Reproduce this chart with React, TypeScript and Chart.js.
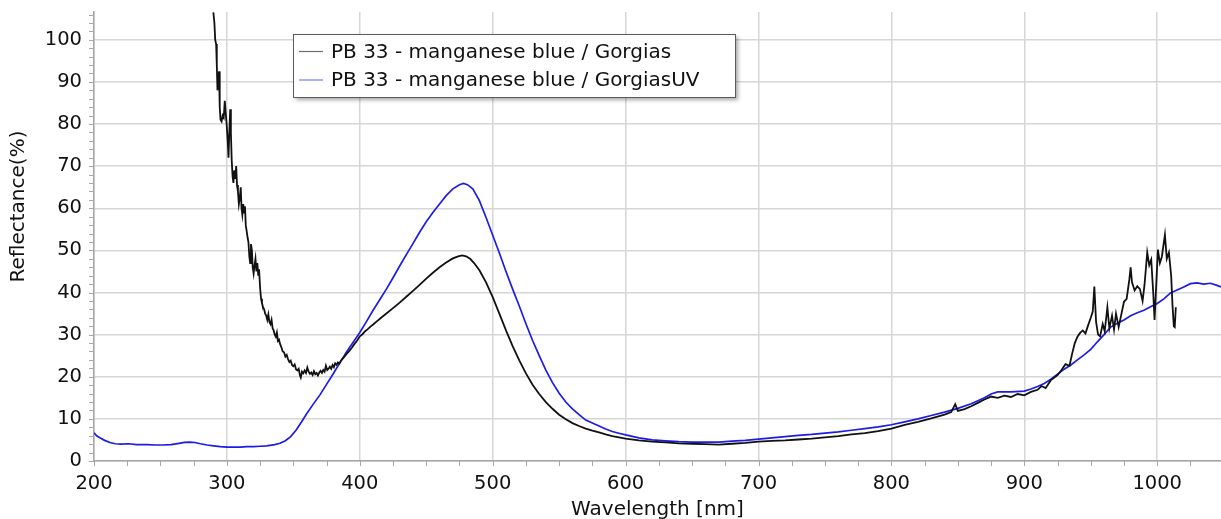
import React, { useEffect, useRef } from "react";
import { Chart, registerables } from "chart.js";

Chart.register(...registerables);

// ---- Data ----
const seriesLabels = [
  "PB 33 - manganese blue / Gorgias",
  "PB 33 - manganese blue / GorgiasUV",
];

const gorgiasWavelength = [
  289.8, 290.6, 291.2, 291.9, 292.4, 292.9, 293.5, 294.1, 294.6, 295.2,
  296.0, 296.8, 297.6, 298.4, 299.0, 299.8, 300.6, 301.2, 301.8, 302.5,
  303.0, 303.6, 304.3, 304.9, 305.6, 306.3, 307.0, 307.6, 308.3, 309.0,
  309.7, 310.4, 311.0, 311.6, 312.3, 312.9, 313.6, 314.2, 314.9, 315.6,
  316.2, 316.9, 317.5, 318.1, 318.8, 319.4, 320.1, 320.8, 321.5, 322.2,
  322.9, 323.6, 324.2, 325.0, 325.7, 326.4, 327.2, 328.0, 328.8, 329.6,
  330.4, 331.2, 332.0, 332.8, 333.6, 334.4, 335.2, 336.0, 336.8, 337.6,
  338.4, 339.2, 340.0, 341.0, 342.0, 343.0, 344.0, 345.0, 346.0, 347.0,
  348.0, 349.0, 350.0, 351.0, 352.0, 353.0, 354.0, 355.0, 355.6, 356.5,
  357.5, 358.5, 359.5, 360.5, 361.5, 362.5, 363.5, 364.5, 365.5, 366.5,
  367.5, 368.5, 369.5, 370.5, 371.5, 372.5, 373.5, 374.5, 375.5, 376.5,
  377.5, 378.5, 379.5, 380.5, 381.5, 382.5, 383.5, 384.5, 386, 388,
  390, 392, 394, 396, 398, 400, 402, 404, 406, 408,
  410, 413, 416, 420, 425, 430, 435, 440, 445, 450,
  455, 460, 465, 470, 474, 477, 480, 483, 486, 490,
  495, 500, 505, 510, 515, 520, 525, 530, 535, 540,
  545, 550, 555, 560, 565, 570, 575, 580, 585, 590,
  595, 600, 610, 620, 630, 640, 650, 660, 670, 680,
  690, 700, 710, 720, 730, 740, 750, 760, 770, 780,
  790, 800, 810, 820, 830, 840, 845, 848, 850, 855,
  860, 865, 870, 875, 880, 885, 890, 895, 900, 905,
  910, 913, 916, 920, 925, 928, 931, 934, 936, 938,
  940, 942, 944, 946, 948, 950, 951.5, 952.7, 954, 955.5,
  957, 959, 960.5, 962.5, 964, 966, 967.5, 969, 971, 973,
  975, 977, 979, 980, 981, 983, 985, 987, 989, 990.5,
  992.5, 994, 995.5, 997, 998, 999.3, 1000.5, 1002, 1003.5, 1005.8,
  1007.2, 1008.8, 1010.5, 1011.5, 1012.5, 1013.2, 1014,
];

const gorgiasReflectance = [
  106.5, 104, 100, 99, 94, 88, 91, 92.5, 84, 81,
  80.6, 82, 81.5, 85.5, 83, 80, 76, 72, 78, 83.5,
  78, 71.5, 67.5, 66, 69, 67, 70, 65.5, 64, 61,
  62.5, 65, 60, 58.5, 61, 59, 60.5, 56, 54.5, 53,
  52, 48.5, 47, 51.5, 50, 46, 44.5, 46.5, 48, 45,
  47, 44, 45.5, 41, 38.5, 37.5, 36.5, 36, 35, 34.5,
  33.5, 34.8, 33, 32.5, 33.5, 31.5, 31, 30, 29.5, 30.5,
  28.5, 28.8, 27.8, 27, 26, 25.8, 24.8, 25.2, 24.2, 23.5,
  23.8, 22.8, 22.5, 22.9, 21.8, 21.5, 21.9, 20.3, 19.8, 21.2,
  20.8, 21.5, 20.9, 22.2, 21.2, 20.7, 21.0, 20.4, 21.3, 20.6,
  20.9, 20.3, 21.0, 21.4, 20.9, 21.6, 21.2, 22.6, 21.6, 21.9,
  22.4, 21.9, 22.8, 22.3, 23.2, 22.8, 23.4, 23.1, 23.9, 24.6,
  25.4, 26.1, 26.9, 27.8, 28.6, 29.6, 30.1, 30.8, 31.3, 31.9,
  32.4, 33.2, 34.0, 35.0, 36.3, 37.6, 39.0, 40.4, 41.8, 43.3,
  44.7, 46.0, 47.1, 48.1, 48.6, 48.8, 48.6, 48.0, 47.0, 45.3,
  42.4, 38.9, 35.0, 31.0, 27.3, 23.9, 20.8, 18.1, 15.9, 14.0,
  12.4, 11.0, 9.9, 9.0, 8.3, 7.7, 7.2, 6.8, 6.3, 5.9,
  5.6, 5.3, 4.9, 4.6, 4.4, 4.2, 4.1, 4.0, 3.9, 4.1,
  4.3, 4.6, 4.8, 4.9, 5.1, 5.3, 5.6, 5.9, 6.3, 6.6,
  7.1, 7.7, 8.6, 9.3, 10.1, 11.0, 11.6, 13.5, 11.9, 12.3,
  13.0, 13.8, 14.6, 15.3, 15.0, 15.5, 15.2, 15.9, 15.6, 16.4,
  16.9, 17.8, 17.3, 19.2, 20.4, 21.6, 23.0, 22.6, 25.5, 28.0,
  29.5, 30.4, 31.0, 30.3, 32.2, 34.0, 35.5, 41.4, 33.0, 30.0,
  29.6, 32.5, 30.8, 36.5, 31.5, 34.5, 31.2, 35.0, 31.8, 34.8,
  37.8, 38.5, 43.0, 46.0, 42.5, 40.5, 41.5, 40.8, 38.0, 42.0,
  49.5, 46.5, 47.8, 40.0, 33.5, 42.0, 50.2, 47.0, 48.5, 53.7,
  48.0, 49.5, 44.0, 37.0, 32.0, 31.8, 36.5,
];

const uvWavelength = [
  200, 202, 205, 208, 212, 216, 220, 226, 232, 240,
  246, 252, 258, 264, 268, 272, 276, 280, 285, 290,
  295, 300, 305, 310, 315, 320, 325, 330, 336, 340,
  344, 348, 352, 356, 360, 365, 370, 375, 380, 385,
  390, 395, 400, 405, 410, 415, 420, 425, 430, 435,
  440, 445, 450, 455, 460, 465, 470, 475, 478, 481,
  485, 490, 495, 500, 505, 510, 515, 520, 525, 530,
  535, 540, 545, 550, 555, 560, 565, 570, 575, 580,
  585, 590, 595, 600, 610, 620, 630, 640, 650, 660,
  670, 680, 690, 700, 710, 720, 730, 740, 750, 760,
  770, 780, 790, 800, 810, 820, 830, 840, 850, 860,
  870, 875, 880, 890, 900, 905, 910, 915, 920, 925,
  930, 935, 940, 945, 950, 955, 960, 965, 970, 975,
  980, 985, 990, 995, 1000, 1005, 1010, 1015, 1020, 1025,
  1030, 1035, 1040, 1045, 1048,
];

const uvReflectance = [
  6.7, 6.0, 5.4, 4.9, 4.4, 4.1, 4.0, 4.1, 3.9, 3.9,
  3.8, 3.8, 3.9, 4.2, 4.4, 4.5, 4.4, 4.1, 3.8, 3.6,
  3.4, 3.3, 3.3, 3.3, 3.4, 3.4, 3.5, 3.6, 3.9, 4.2,
  4.8, 5.8, 7.3, 9.2, 11.2, 13.5, 15.7, 18.2, 20.7, 23.3,
  25.9, 28.2, 30.5, 33.1, 35.8, 38.3, 40.8, 43.5, 46.3, 49.0,
  51.6, 54.3, 56.8, 59.0, 61.0, 63.0, 64.6, 65.6, 65.9, 65.6,
  64.6, 61.8, 57.8, 53.6, 49.4, 45.0, 40.8, 36.8, 32.6, 28.6,
  25.0, 21.6, 18.6, 16.1, 14.0, 12.4, 11.0, 9.7, 9.0, 8.3,
  7.6, 7.0, 6.6, 6.2, 5.5, 5.0, 4.8, 4.6, 4.5, 4.5,
  4.5, 4.7, 4.9, 5.2, 5.5, 5.8, 6.1, 6.3, 6.6, 6.9,
  7.3, 7.7, 8.1, 8.6, 9.3, 10.0, 10.8, 11.6, 12.5, 13.6,
  15.0, 15.9, 16.4, 16.4, 16.6, 17.1, 17.7, 18.4, 19.4, 20.6,
  21.8, 22.8, 24.0, 25.2, 26.5, 28.3, 30.0, 31.8, 32.7, 33.5,
  34.5, 35.2, 35.8, 36.6, 37.4, 38.5, 39.9, 40.6, 41.3, 42.1,
  42.3, 42.0, 42.2, 41.7, 41.3,
];

const xTickValues = [200, 300, 400, 500, 600, 700, 800, 900, 1000];
const yTickValues = [0, 10, 20, 30, 40, 50, 60, 70, 80, 90, 100];
const xRange = [200, 1048];
const yRange = [0, 106.6];
const xMinorStep = 25;
const yMinorStep = 2;
const xTitle = "Wavelength [nm]";
const yTitle = "Reflectance(%)";

const FONT = "'DejaVu Sans', Verdana, sans-serif";
const lineColors = ["#111111", "#1c1ce6"];
const legendSwatchColors = ["#6e6e6e", "#7878ff"];

export default function App() {
  const ref = useRef<HTMLCanvasElement>(null);

  useEffect(() => {
    if (!ref.current) return;
    const toPts = (xs: number[], ys: number[]) =>
      xs.map((x, i) => ({ x, y: ys[i] }));

    const decor = {
      id: "decor",
      afterDraw(chart: any) {
        const { ctx, chartArea } = chart;
        const xs = chart.scales.x;
        const ys = chart.scales.y;
        ctx.save();
        // minor / major tick marks
        ctx.strokeStyle = "#a6a6a6";
        ctx.lineWidth = 1;
        ctx.beginPath();
        for (let v = xRange[0]; v <= xRange[1]; v += xMinorStep) {
          const px = Math.round(xs.getPixelForValue(v)) + 0.5;
          ctx.moveTo(px, chartArea.bottom);
          ctx.lineTo(px, chartArea.bottom + 5);
        }
        for (let v = yRange[0]; v <= yRange[1]; v += yMinorStep) {
          const py = Math.round(ys.getPixelForValue(v)) + 0.5;
          ctx.moveTo(chartArea.left - 5, py);
          ctx.lineTo(chartArea.left, py);
        }
        ctx.stroke();

        // axis titles
        ctx.fillStyle = "#111";
        ctx.font = `20px ${FONT}`;
        ctx.textAlign = "center";
        ctx.textBaseline = "alphabetic";
        ctx.fillText(xTitle, (chartArea.left + chartArea.right) / 2, 515);
        ctx.save();
        ctx.translate(18.5, 206.5);
        ctx.rotate(-Math.PI / 2);
        ctx.textBaseline = "middle";
        ctx.fillText(yTitle, 0, 0);
        ctx.restore();

        // legend box
        const bx = 293.5, by = 34.5, bw = 442, bh = 63;
        ctx.save();
        ctx.shadowColor = "rgba(0,0,0,0.35)";
        ctx.shadowBlur = 4;
        ctx.shadowOffsetX = 2;
        ctx.shadowOffsetY = 2;
        ctx.fillStyle = "#ffffff";
        ctx.fillRect(bx, by, bw, bh);
        ctx.restore();
        ctx.strokeStyle = "#5a5a5a";
        ctx.lineWidth = 1;
        ctx.strokeRect(bx, by, bw, bh);
        const rows = [51.5, 80];
        seriesLabels.forEach((label, i) => {
          ctx.strokeStyle = legendSwatchColors[i];
          ctx.lineWidth = 1.2;
          ctx.beginPath();
          ctx.moveTo(299, rows[i]);
          ctx.lineTo(323, rows[i]);
          ctx.stroke();
          ctx.fillStyle = "#111";
          ctx.font = `20px ${FONT}`;
          ctx.textAlign = "left";
          ctx.textBaseline = "middle";
          ctx.fillText(label, 331, rows[i] + 1);
        });
        ctx.restore();
      },
    };

    const chart = new Chart(ref.current, {
      type: "line",
      data: {
        datasets: [
          {
            label: seriesLabels[0],
            data: toPts(gorgiasWavelength, gorgiasReflectance),
            borderColor: lineColors[0],
            borderWidth: 1.8,
            pointRadius: 0,
            tension: 0,
            fill: false,
          },
          {
            label: seriesLabels[1],
            data: toPts(uvWavelength, uvReflectance),
            borderColor: lineColors[1],
            borderWidth: 1.7,
            pointRadius: 0,
            tension: 0,
            fill: false,
          },
        ],
      },
      options: {
        animation: false,
        responsive: true,
        maintainAspectRatio: false,
        layout: { padding: 0 },
        plugins: {
          legend: { display: false },
          tooltip: { enabled: false },
          title: { display: false },
        },
        events: [],
        scales: {
          x: {
            type: "linear",
            min: xRange[0],
            max: xRange[1],
            afterBuildTicks: (s: any) => {
              s.ticks = xTickValues.map((v) => ({ value: v }));
            },
            afterFit: (s: any) => {
              s.height = 58;
              s.paddingLeft = 0;
              s.paddingRight = 0;
            },
            grid: { color: "#d6d6d6", lineWidth: 1.5, drawTicks: false },
            border: { color: "#a6a6a6", width: 1.5 },
            ticks: {
              font: { family: FONT, size: 19.5 },
              color: "#111",
              padding: 11,
              maxRotation: 0,
              autoSkip: false,
              callback: (v: any) => String(v),
            },
          },
          y: {
            type: "linear",
            min: yRange[0],
            max: yRange[1],
            afterBuildTicks: (s: any) => {
              s.ticks = yTickValues.map((v) => ({ value: v }));
            },
            afterFit: (s: any) => {
              s.width = 94;
              s.paddingTop = 12;
              s.paddingBottom = 0;
            },
            grid: { color: "#d6d6d6", lineWidth: 1.5, drawTicks: false },
            border: { color: "#a6a6a6", width: 1.5 },
            ticks: {
              font: { family: FONT, size: 19.5 },
              color: "#111",
              padding: 12,
              autoSkip: false,
              callback: (v: any) => String(v),
            },
          },
        },
      },
      plugins: [decor],
    });
    return () => chart.destroy();
  }, []);

  return (
    <div
      style={{
        position: "fixed",
        left: 0,
        top: 0,
        width: 1221,
        height: 519,
        background: "#fff",
      }}
    >
      <canvas ref={ref} style={{ display: "block" }} />
    </div>
  );
}
